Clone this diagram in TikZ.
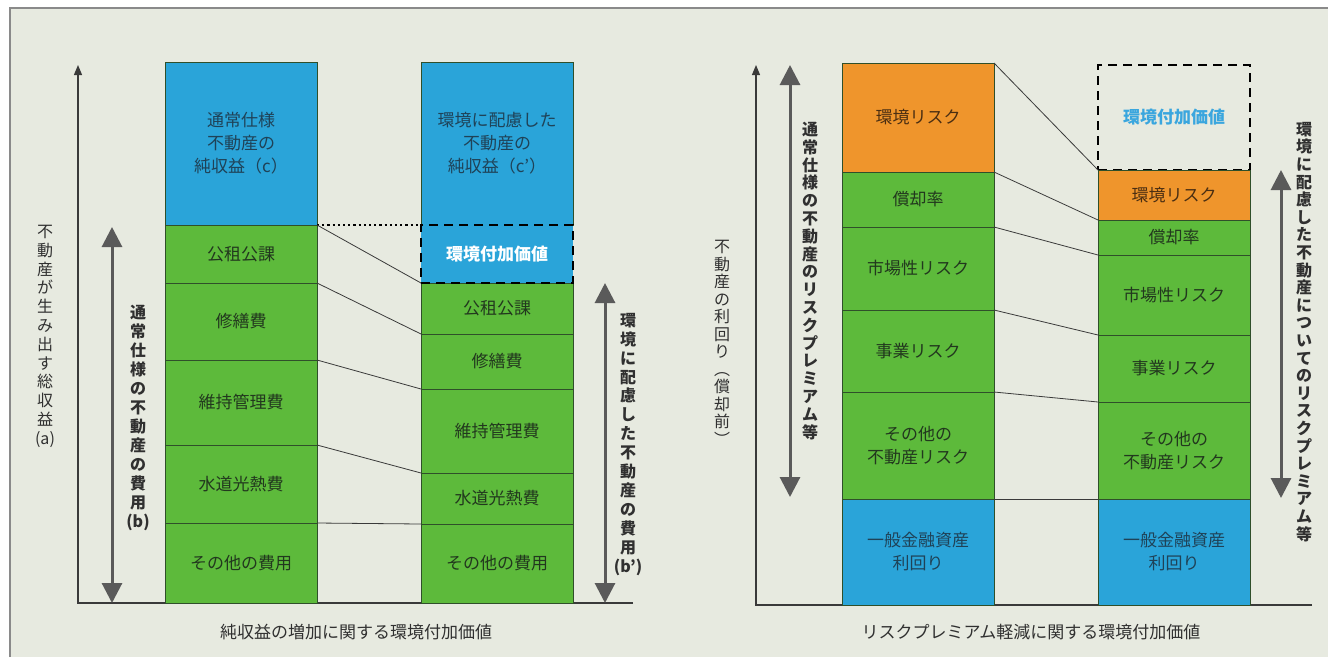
\documentclass[tikz,border=0pt]{standalone}
\usepackage{fontspec}
\setmainfont{Noto Sans CJK JP}
\usetikzlibrary{arrows.meta}
\definecolor{bgc}{HTML}{E7EAE0}
\definecolor{framec}{HTML}{8A8A8A}
\definecolor{blueF}{HTML}{2AA4D9}
\definecolor{greenF}{HTML}{5DBA3B}
\definecolor{orangeF}{HTML}{EF952C}
\definecolor{linec}{HTML}{3A3A3A}
\definecolor{arrowc}{HTML}{5A5A5A}
\definecolor{textg}{HTML}{22381E}
\definecolor{textb}{HTML}{1F4257}
\definecolor{texto}{HTML}{4A2E12}
\definecolor{edgec}{HTML}{2F4F2A}
\definecolor{valblue}{HTML}{3AA6DE}
\definecolor{labc}{HTML}{303030}
\newcommand\mkblock[7]{%
  \node[blk, fill=#5, text=#6, minimum height={#4-#3}, anchor=north west] (#1) at (#2,#3) {#7};}
\begin{document}
\begin{tikzpicture}[x=1pt,y=-1pt,
  blk/.style={draw=edgec, line width=0.9pt, minimum width=152pt, inner sep=0pt, outer sep=0pt,
    align=center, font=\fontsize{17}{23}\selectfont},
  valbox/.style={draw=black, line width=2.4pt, dash pattern=on 9pt off 6pt, minimum width=152pt,
    inner sep=0pt, outer sep=0pt, align=center, font=\bfseries\fontsize{17}{22}\selectfont},
  conn/.style={draw=linec, line width=0.8pt},
  dotconn/.style={draw=black, line width=2pt, dash pattern=on 2.2pt off 3pt},
  axis/.style={draw=linec, line width=1.1pt, -{Triangle[width=8pt,length=10pt]}},
  bigarrow/.style={draw=arrowc, line width=3pt, {Triangle[width=20pt,length=20pt]}-{Triangle[width=20pt,length=20pt]}},
  vlab/.style={align=center, inner sep=0pt, anchor=north, text=labc},
  captext/.style={font=\fontsize{17}{20}\selectfont, text=labc, inner sep=0pt}
]
\useasboundingbox (0,0) rectangle (1328,657);
\fill[white] (0,0) rectangle (1328,657);
\fill[bgc] (10,8) rectangle (1328,657);
\draw[framec, line width=1.5pt] (10,657) -- (10,8) -- (1328,8);

% ---------- left panel ----------
\coordinate (LaxTop) at (78,65);
\coordinate (Lcorner) at (78,603);
\coordinate (Lend) at (633,603);
\draw[axis] (Lend) -- (Lcorner) -- (LaxTop);

\mkblock{A0}{165}{62}{225}{blueF}{textb}{通常仕様\\不動産の\\純収益（c）}
\mkblock{A1}{165}{225}{283}{greenF}{textg}{公租公課}
\mkblock{A2}{165}{283}{360}{greenF}{textg}{修繕費}
\mkblock{A3}{165}{360}{445}{greenF}{textg}{維持管理費}
\mkblock{A4}{165}{445}{523}{greenF}{textg}{水道光熱費}
\mkblock{A5}{165}{523}{603}{greenF}{textg}{その他の費用}

\mkblock{B0}{421}{62}{225}{blueF}{textb}{環境に配慮した\\不動産の\\純収益（c’）}
\mkblock{B1}{421}{283}{334}{greenF}{textg}{公租公課}
\mkblock{B2}{421}{334}{389}{greenF}{textg}{修繕費}
\mkblock{B3}{421}{389}{473}{greenF}{textg}{維持管理費}
\mkblock{B4}{421}{473}{524}{greenF}{textg}{水道光熱費}
\mkblock{B5}{421}{524}{603}{greenF}{textg}{その他の費用}
\node[valbox, fill=blueF, text=white, minimum height=58pt, anchor=north west] (Bv) at (421,225) {環境付加価値};

\draw[dotconn] (A1.north east) -- (Bv.north west);
\draw[conn] (A1.north east) -- (B1.north west);
\draw[conn] (A2.north east) -- (B2.north west);
\draw[conn] (A3.north east) -- (B3.north west);
\draw[conn] (A4.north east) -- (B4.north west);
\draw[conn] (A5.north east) -- (B5.north west);

\coordinate (L1t) at (112,227); \coordinate (L1b) at (112,603);
\draw[bigarrow] (L1t) -- (L1b);
\coordinate (L2t) at (605,283); \coordinate (L2b) at (605,603);
\draw[bigarrow] (L2t) -- (L2b);

\node[vlab, font=\fontsize{16}{18.8}\selectfont] (la) at (45,225)
  {不\\動\\産\\が\\生\\み\\出\\す\\総\\収\\益\\(a)};
\node[vlab, font=\bfseries\fontsize{16}{19}\selectfont] (lb) at (138,305)
  {通\\常\\仕\\様\\の\\不\\動\\産\\の\\費\\用\\(b)};
\node[vlab, font=\bfseries\fontsize{16}{18.9}\selectfont] (lbp) at (628,313)
  {環\\境\\に\\配\\慮\\し\\た\\不\\動\\産\\の\\費\\用\\(b’)};

\node[captext] (capL) at (356,632) {純収益の増加に関する環境付加価値};

% ---------- right panel ----------
\coordinate (RaxTop) at (756,65);
\coordinate (Rcorner) at (756,605);
\coordinate (Rend) at (1312,605);
\draw[axis] (Rend) -- (Rcorner) -- (RaxTop);

\mkblock{C0}{842}{63}{172}{orangeF}{texto}{環境リスク}
\mkblock{C1}{842}{172}{227}{greenF}{textg}{償却率}
\mkblock{C2}{842}{227}{310}{greenF}{textg}{市場性リスク}
\mkblock{C3}{842}{310}{392}{greenF}{textg}{事業リスク}
\mkblock{C4}{842}{392}{499}{greenF}{textg}{その他の\\不動産リスク}
\mkblock{C5}{842}{499}{605}{blueF}{textb}{一般金融資産\\利回り}

\node[valbox, text=valblue, minimum height=105pt, anchor=north west] (Dv) at (1098,65) {環境付加価値};
\mkblock{D0}{1098}{170}{220}{orangeF}{texto}{環境リスク}
\mkblock{D1}{1098}{220}{255}{greenF}{textg}{償却率}
\mkblock{D2}{1098}{255}{335}{greenF}{textg}{市場性リスク}
\mkblock{D3}{1098}{335}{402}{greenF}{textg}{事業リスク}
\mkblock{D4}{1098}{402}{499}{greenF}{textg}{その他の\\不動産リスク}
\mkblock{D5}{1098}{499}{605}{blueF}{textb}{一般金融資産\\利回り}

\draw[conn] (C0.north east) -- (D0.north west);
\draw[conn] (C1.north east) -- (D1.north west);
\draw[conn] (C2.north east) -- (D2.north west);
\draw[conn] (C3.north east) -- (D3.north west);
\draw[conn] (C4.north east) -- (D4.north west);
\draw[conn] (C5.north east) -- (D5.north west);

\coordinate (R1t) at (790,65); \coordinate (R1b) at (790,497);
\draw[bigarrow] (R1t) -- (R1b);
\coordinate (R2t) at (1281,170); \coordinate (R2b) at (1281,498);
\draw[bigarrow] (R2t) -- (R2b);

\node[vlab, font=\fontsize{16}{17.5}\selectfont] (lr) at (722,240)
  {不\\動\\産\\の\\利\\回\\り\\︵\\償\\却\\前\\︶};
\node[vlab, font=\bfseries\fontsize{16}{17.8}\selectfont] (lp) at (810,122)
  {通\\常\\仕\\様\\の\\不\\動\\産\\の\\リ\\ス\\ク\\プ\\レ\\ミ\\ア\\ム\\等};
\node[vlab, font=\bfseries\fontsize{16}{17.6}\selectfont] (lpp) at (1304,122)
  {環\\境\\に\\配\\慮\\し\\た\\不\\動\\産\\に\\つ\\い\\て\\の\\リ\\ス\\ク\\プ\\レ\\ミ\\ア\\ム\\等};

\node[captext] (capR) at (1031,632) {リスクプレミアム軽減に関する環境付加価値};
\end{tikzpicture}
\end{document}
